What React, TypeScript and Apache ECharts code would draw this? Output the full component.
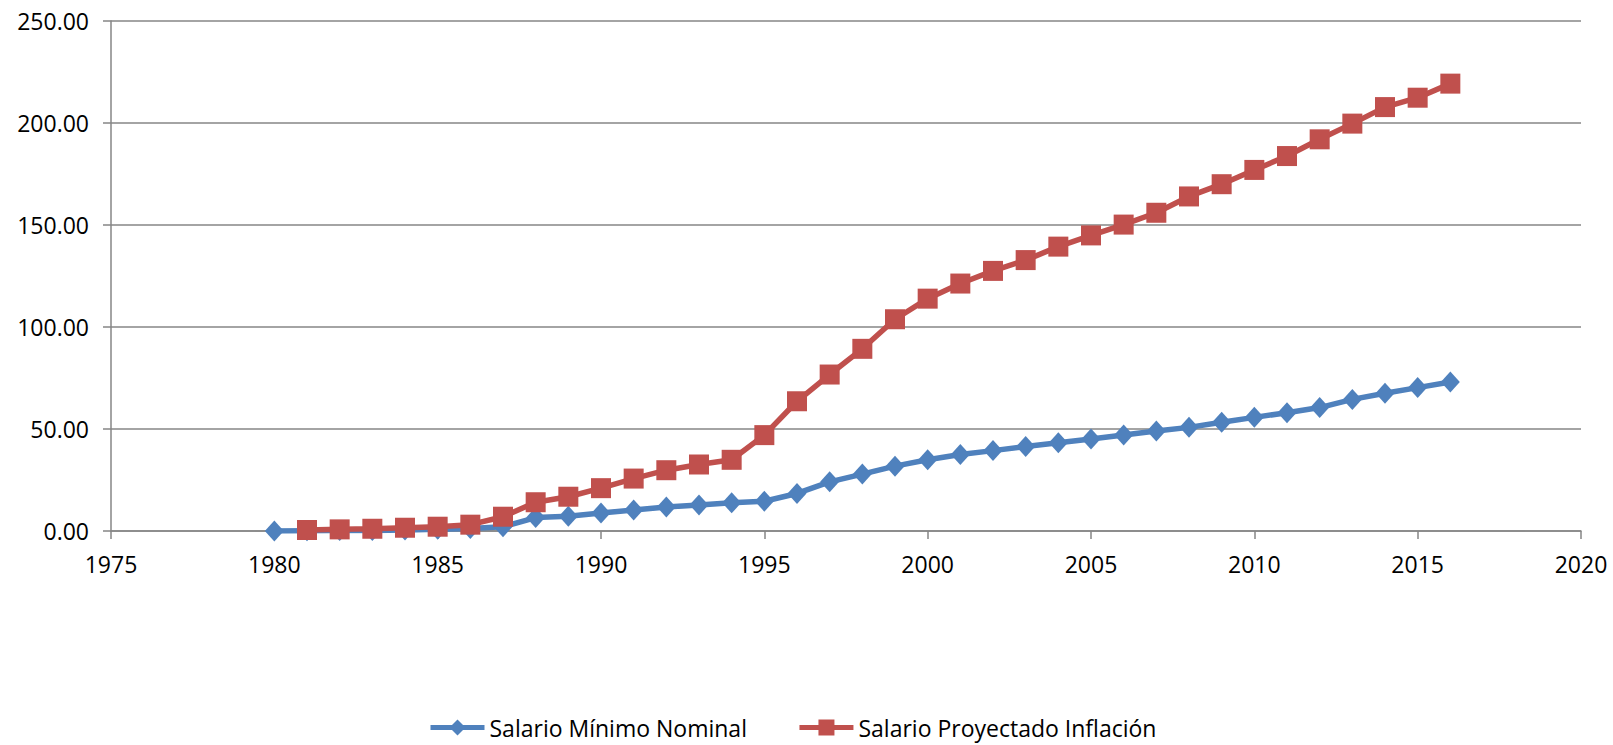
import React, { useEffect, useRef } from "react";
import * as echarts from "echarts";

const nominalYears = [
  1980, 1981, 1982, 1983, 1984, 1985, 1986, 1987, 1988, 1989,
  1990, 1991, 1992, 1993, 1994, 1995, 1996, 1997, 1998, 1999,
  2000, 2001, 2002, 2003, 2004, 2005, 2006, 2007, 2008, 2009,
  2010, 2011, 2012, 2013, 2014, 2015, 2016,
];
const nominalValues = [
  0.0, 0.1, 0.2, 0.3, 0.5, 0.8, 1.2, 2.1, 6.6, 7.2,
  8.8, 10.3, 11.8, 12.8, 13.8, 14.6, 18.4, 24.1, 27.9, 31.8,
  34.9, 37.5, 39.4, 41.4, 43.3, 45.1, 47.1, 49.0, 50.8, 53.3,
  55.7, 58.0, 60.5, 64.5, 67.5, 70.3, 73.0,
];
const inflationYears = [
  1981, 1982, 1983, 1984, 1985, 1986, 1987, 1988, 1989,
  1990, 1991, 1992, 1993, 1994, 1995, 1996, 1997, 1998, 1999,
  2000, 2001, 2002, 2003, 2004, 2005, 2006, 2007, 2008, 2009,
  2010, 2011, 2012, 2013, 2014, 2015, 2016,
];
const inflationValues = [
  0.5, 0.8, 1.1, 1.6, 2.1, 3.1, 7.0, 14.1, 16.8,
  21.0, 25.7, 29.8, 32.6, 34.9, 47.0, 63.6, 76.7, 89.3, 103.8,
  113.9, 121.3, 127.5, 132.8, 139.4, 144.9, 150.2, 156.0, 164.0, 170.0,
  177.0, 183.8, 192.0, 199.7, 207.8, 212.4, 219.3,
];
const seriesNames = ["Salario Mínimo Nominal", "Salario Proyectado Inflación"];

const FONT = "'Open Sans', sans-serif";

export default function App() {
  const ref = useRef<HTMLDivElement>(null);
  useEffect(() => {
    if (!ref.current) return;
    const chart = echarts.init(ref.current, undefined, { renderer: "svg" });
    const gridColor = "#868686";
    chart.setOption({
      animation: false,
      textStyle: { fontFamily: FONT },
      grid: { left: 111, right: 32, top: 21, bottom: 214, containLabel: false },
      legend: {
        top: 716,
        left: 428,
        padding: 0,
        itemWidth: 54,
        itemHeight: 20,
        itemGap: 50,
        lineStyle: { width: 5 },
        textStyle: { fontFamily: FONT, fontSize: 23, color: "#000" },
        data: seriesNames,
      },
      xAxis: {
        type: "value",
        min: 1975,
        max: 2020,
        interval: 5,
        axisLine: { show: true, lineStyle: { color: gridColor, width: 1.5 } },
        axisTick: { show: true, length: 8, inside: false, lineStyle: { color: gridColor, width: 1.5 } },
        splitLine: { show: false },
        axisLabel: {
          color: "#000",
          fontSize: 23,
          fontFamily: FONT,
          margin: 21,
          formatter: (v: number) => String(v),
        },
      },
      yAxis: {
        type: "value",
        min: 0,
        max: 250,
        interval: 50,
        axisLine: { show: true, lineStyle: { color: gridColor, width: 1.5 } },
        axisTick: { show: true, length: 8, lineStyle: { color: gridColor, width: 1.5 } },
        splitLine: { show: true, lineStyle: { color: gridColor, width: 1.5 } },
        axisLabel: {
          color: "#000",
          fontSize: 23,
          fontFamily: FONT,
          margin: 22,
          formatter: (v: number) => v.toFixed(2),
        },
      },
      series: [
        {
          name: seriesNames[0],
          type: "line",
          data: nominalYears.map((y, i) => [y, nominalValues[i]]),
          symbol: "diamond",
          symbolSize: [19, 21],
          lineStyle: { color: "#4F81BD", width: 5.5 },
          itemStyle: { color: "#4F81BD" },
        },
        {
          name: seriesNames[1],
          type: "line",
          data: inflationYears.map((y, i) => [y, inflationValues[i]]),
          symbol: "rect",
          symbolSize: 20,
          lineStyle: { color: "#C0504D", width: 5.5 },
          itemStyle: { color: "#C0504D" },
        },
      ],
    });
    return () => chart.dispose();
  }, []);
  return (
    <div
      ref={ref}
      style={{ position: "fixed", left: 0, top: 0, width: 1613, height: 745, background: "#fff" }}
    />
  );
}
